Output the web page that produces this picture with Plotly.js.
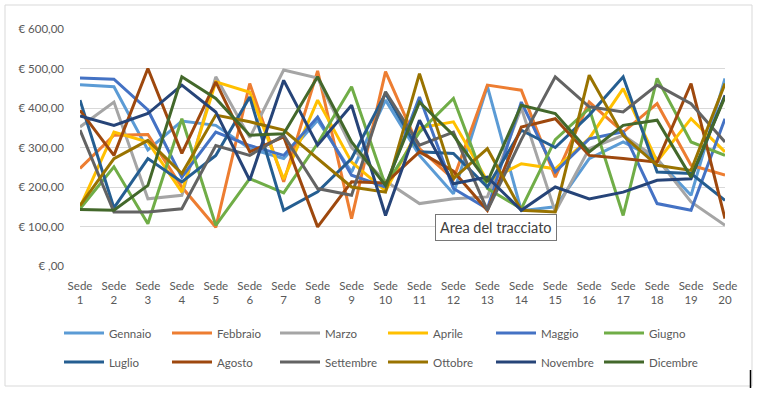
<!DOCTYPE html>
<html>
<head>
<meta charset="utf-8">
<script src="https://cdn.plot.ly/plotly-3.0.1.min.js"></script>
<style>
  html, body { margin: 0; padding: 0; background: #ffffff; }
  #chart { width: 758px; height: 399px; }
</style>
</head>
<body>
<div id="chart"></div>
<script>
const categories = ["Sede 1","Sede 2","Sede 3","Sede 4","Sede 5","Sede 6","Sede 7","Sede 8","Sede 9","Sede 10",
                    "Sede 11","Sede 12","Sede 13","Sede 14","Sede 15","Sede 16","Sede 17","Sede 18","Sede 19","Sede 20"];
const categoryLabels = categories.map(c => c.replace(" ", "<br>"));

const seriesNames = ["Gennaio","Febbraio","Marzo","Aprile","Maggio","Giugno",
                     "Luglio","Agosto","Settembre","Ottobre","Novembre","Dicembre"];

const gennaio   = [459,454,294,367,356,297,272,369,238,420,280,183,455,140,150,272,314,270,179,475];
const febbraio  = [247,331,333,200, 98,462,213,494,120,492,297,220,458,445,225,415,339,411,255,230];
const marzo     = [352,415,170,179,479,325,496,476,300,215,158,170,175,400,137,297,331,272,162,103];
const aprile    = [149,339,314,187,466,440,220,420,263,190,350,365,215,259,246,323,449,265,373,289];
const maggio    = [476,473,395,225,339,305,280,377,230,200,428,196,145,415,238,322,340,158,141,373];
const giugno    = [145,251,107,373,103,221,185,310,454,204,339,424,196,145,320,399,128,475,314,280];
const luglio    = [420,147,272,213,280,428,141,188,272,437,289,285,200,344,300,382,479,238,234,166];
const agosto    = [394,280,500,285,466,289,327, 99,213,210,289,240,141,352,373,280,272,263,462,120];
const settembre = [344,137,137,145,305,280,331,196,179,441,306,339,141,320,479,403,390,458,411,314];
const ottobre   = [153,272,318,234,382,365,344,272,200,187,487,221,297,141,137,483,330,255,242,462];
const novembre  = [380,356,386,458,390,217,470,306,407,128,369,208,225,141,200,170,187,217,221,432];
const dicembre  = [143,141,204,479,424,331,335,479,314,204,415,331,213,407,386,289,356,369,225,428];

const seriesValues = [gennaio,febbraio,marzo,aprile,maggio,giugno,luglio,agosto,settembre,ottobre,novembre,dicembre];
const seriesColors = ["#5B9BD5","#ED7D31","#A5A5A5","#FFC000","#4472C4","#70AD47",
                      "#255E91","#9E480E","#636363","#997300","#264478","#43682B"];

const yTickVals = [0,100,200,300,400,500,600];
const yTickText = ["€ ,00","€ 100,00","€ 200,00","€ 300,00","€ 400,00","€ 500,00","€ 600,00"];

const W = 758, H = 399;
const mL = 80, mR = 33, mT = 29, mB = 133;
const pw = W - mL - mR, ph = H - mT - mB;
const px = x => (x - mL) / pw;
const py = y => (H - mB - y) / ph;

const traces = seriesNames.map((name, i) => ({
  type: "scatter",
  mode: "lines",
  name: name,
  x: categories,
  y: seriesValues[i],
  line: { color: seriesColors[i], width: 3 },
  legend: i < 6 ? "legend" : "legend2",
  hoverinfo: "skip"
}));

const fontFamily = "Lato, 'Open Sans', sans-serif";
const legendCommon = {
  orientation: "h",
  xref: "container", yref: "container",
  xanchor: "left", yanchor: "middle",
  x: 59 / W,
  font: { family: fontFamily, size: 11.5, color: "#595959" },
  itemwidth: 40,
  entrywidth: 53,
  entrywidthmode: "pixels",
  bgcolor: "rgba(0,0,0,0)",
  traceorder: "normal"
};

const layout = {
  width: W, height: H,
  margin: { l: mL, r: mR, t: mT, b: mB, pad: 0 },
  paper_bgcolor: "#ffffff",
  plot_bgcolor: "#ffffff",
  font: { family: fontFamily, size: 11.5, color: "#595959" },
  showlegend: true,
  xaxis: {
    type: "category",
    tickmode: "array",
    tickvals: categories,
    ticktext: categoryLabels,
    showgrid: false,
    zeroline: false,
    showline: false,
    ticks: "",
    ticklabelstandoff: 11,
    tickfont: { family: fontFamily, size: 11.5, color: "#595959" },
    fixedrange: true
  },
  yaxis: {
    range: [0, 600],
    tickmode: "array",
    tickvals: yTickVals,
    ticktext: yTickText,
    showgrid: true,
    gridcolor: "#D9D9D9",
    gridwidth: 1,
    zeroline: false,
    showline: false,
    ticks: "",
    ticklabelstandoff: 15,
    tickfont: { family: fontFamily, size: 11.5, color: "#595959" },
    fixedrange: true
  },
  legend: Object.assign({}, legendCommon, { y: 1 - 333 / H }),
  legend2: Object.assign({}, legendCommon, { y: 1 - 362 / H }),
  shapes: [
    { type: "rect", xref: "paper", yref: "paper",
      x0: px(5), x1: px(752), y0: py(386), y1: py(5),
      line: { color: "#D9D9D9", width: 1 }, fillcolor: "rgba(0,0,0,0)", layer: "below" },
    { type: "line", xref: "paper", yref: "paper",
      x0: px(750.5), x1: px(750.5), y0: py(388), y1: py(370),
      line: { color: "#000000", width: 1.5 } }
  ],
  annotations: [
    { text: "Area del tracciato", xref: "paper", yref: "paper",
      x: px(495.5), y: py(227.5), xanchor: "center", yanchor: "middle",
      showarrow: false,
      font: { family: fontFamily, size: 14.5, color: "#404040" },
      bgcolor: "#ffffff", bordercolor: "#767676", borderwidth: 1, borderpad: 4 }
  ]
};

Plotly.newPlot("chart", traces, layout, { staticPlot: true, displayModeBar: false });
</script>
</body>
</html>
